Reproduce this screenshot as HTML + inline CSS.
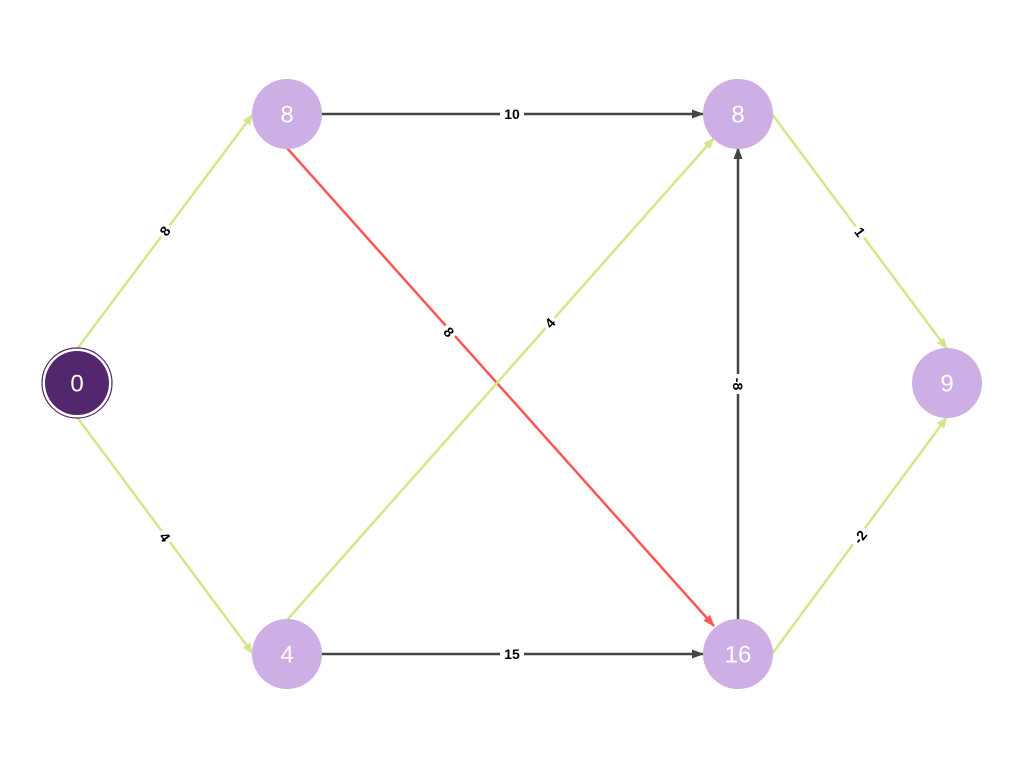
<!DOCTYPE html>
<html><head><style>body{margin:0;background:#fff}svg{display:block}</style></head><body>
<svg width="1024" height="768" xmlns="http://www.w3.org/2000/svg" font-family="Liberation Sans, sans-serif">
<defs>
<marker id="g" markerWidth="12" markerHeight="12" refX="11" refY="6" orient="auto" markerUnits="userSpaceOnUse"><path d="M0,1.5 L12,6 L0,10.5z" fill="#d5e68a"/></marker>
<marker id="k" markerWidth="12" markerHeight="12" refX="11" refY="6" orient="auto" markerUnits="userSpaceOnUse"><path d="M0,1.5 L12,6 L0,10.5z" fill="#444"/></marker>
<marker id="r" markerWidth="12" markerHeight="12" refX="11" refY="6" orient="auto" markerUnits="userSpaceOnUse"><path d="M0,1.5 L12,6 L0,10.5z" fill="#f55"/></marker>
</defs>
<g stroke-width="2.5" fill="none">
<line x1="77" y1="349" x2="253" y2="114" stroke="#d5e68a" marker-end="url(#g)"/>
<line x1="77" y1="417" x2="253" y2="654" stroke="#d5e68a" marker-end="url(#g)"/>
<line x1="321" y1="114" x2="703" y2="114" stroke="#444" marker-end="url(#k)"/>
<line x1="321" y1="654" x2="703" y2="654" stroke="#444" marker-end="url(#k)"/>
<line x1="287" y1="148" x2="714" y2="626" stroke="#f55" marker-end="url(#r)"/>
<line x1="287" y1="620" x2="714" y2="138" stroke="#d5e68a" marker-end="url(#g)"/>
<line x1="738" y1="620" x2="738" y2="148" stroke="#444" marker-end="url(#k)"/>
<line x1="772" y1="114" x2="947" y2="349" stroke="#d5e68a" marker-end="url(#g)"/>
<line x1="772" y1="654" x2="947" y2="417" stroke="#d5e68a" marker-end="url(#g)"/>
</g>
<g font-size="14" font-weight="bold" text-anchor="middle" dominant-baseline="central">
<g transform="translate(165,231) rotate(-53)"><rect x="-7" y="-8" width="14" height="16" fill="#fff"/><text>8</text></g>
<g transform="translate(165,537) rotate(53)"><rect x="-7" y="-8" width="14" height="16" fill="#fff"/><text>4</text></g>
<g transform="translate(512,114)"><rect x="-12" y="-8" width="24" height="16" fill="#fff"/><text>10</text></g>
<g transform="translate(512,654)"><rect x="-12" y="-8" width="24" height="16" fill="#fff"/><text>15</text></g>
<g transform="translate(449,332) rotate(48)"><rect x="-7" y="-8" width="14" height="16" fill="#fff"/><text>8</text></g>
<g transform="translate(550,323) rotate(-48)"><rect x="-7" y="-8" width="14" height="16" fill="#fff"/><text>4</text></g>
<g transform="translate(738,384) rotate(90)"><rect x="-10" y="-8" width="20" height="16" fill="#fff"/><text>-8</text></g>
<g transform="translate(860,232) rotate(53)"><rect x="-7" y="-8" width="14" height="16" fill="#fff"/><text>1</text></g>
<g transform="translate(860,537) rotate(-52)"><rect x="-10" y="-8" width="20" height="16" fill="#fff"/><text>-2</text></g>
</g>
<g font-size="24" fill="#fff" text-anchor="middle" dominant-baseline="central">
<circle cx="77" cy="383" r="35" fill="#fff" stroke="#52276e" stroke-width="1.2"/>
<circle cx="77" cy="383" r="32" fill="#52276e"/>
<text x="77" y="384">0</text>
<circle cx="287" cy="114" r="35" fill="#cdaee5"/><text x="287" y="115">8</text>
<circle cx="287" cy="654" r="35" fill="#cdaee5"/><text x="287" y="655">4</text>
<circle cx="738" cy="114" r="35" fill="#cdaee5"/><text x="738" y="115">8</text>
<circle cx="738" cy="654" r="35" fill="#cdaee5"/><text x="738" y="655">16</text>
<circle cx="947" cy="383" r="35" fill="#cdaee5"/><text x="947" y="384">9</text>
</g>
</svg>
</body></html>
